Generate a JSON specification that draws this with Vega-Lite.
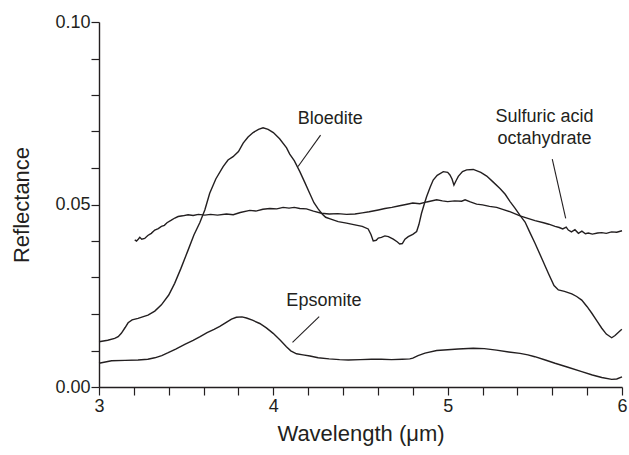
{
  "$schema": "https://vega.github.io/schema/vega-lite/v6.json",
  "autosize": "none",
  "width": 523,
  "height": 365,
  "padding": {"left": 99, "top": 22, "right": 7, "bottom": 68},
  "background": "white",
  "config": {
    "font": "Liberation Sans",
    "view": {"stroke": null},
    "axis": {
      "grid": false,
      "domainColor": "#231f20",
      "domainWidth": 1.4,
      "tickColor": "#231f20",
      "tickWidth": 1.2,
      "labelColor": "#231f20",
      "labelFontSize": 18,
      "labelFont": "Liberation Sans",
      "labelFlush": false,
      "labelOverlap": false,
      "titleColor": "#231f20",
      "titleFont": "Liberation Sans",
      "titleFontSize": 22,
      "titleFontWeight": "normal"
    }
  },
  "resolve": {"axis": {"x": "independent", "y": "independent"}},
  "layer": [
    {
      "data": {"values": [
        {"s":"Epsomite","x":3.0,"y":0.0065},{"s":"Epsomite","x":3.072,"y":0.0072},{"s":"Epsomite","x":3.15,"y":0.0073},{"s":"Epsomite","x":3.224,"y":0.0074},{"s":"Epsomite","x":3.28,"y":0.0076},{"s":"Epsomite","x":3.32,"y":0.008},{"s":"Epsomite","x":3.36,"y":0.0086},{"s":"Epsomite","x":3.397,"y":0.0094},{"s":"Epsomite","x":3.44,"y":0.0104},{"s":"Epsomite","x":3.492,"y":0.0117},{"s":"Epsomite","x":3.54,"y":0.0128},{"s":"Epsomite","x":3.58,"y":0.0138},{"s":"Epsomite","x":3.62,"y":0.0149},{"s":"Epsomite","x":3.66,"y":0.0158},{"s":"Epsomite","x":3.693,"y":0.0166},{"s":"Epsomite","x":3.73,"y":0.0177},{"s":"Epsomite","x":3.76,"y":0.0186},{"s":"Epsomite","x":3.788,"y":0.0191},{"s":"Epsomite","x":3.82,"y":0.0192},{"s":"Epsomite","x":3.846,"y":0.0189},{"s":"Epsomite","x":3.88,"y":0.0183},{"s":"Epsomite","x":3.922,"y":0.0174},{"s":"Epsomite","x":3.96,"y":0.0162},{"s":"Epsomite","x":3.999,"y":0.0147},{"s":"Epsomite","x":4.04,"y":0.0128},{"s":"Epsomite","x":4.075,"y":0.011},{"s":"Epsomite","x":4.1,"y":0.0099},{"s":"Epsomite","x":4.133,"y":0.0091},{"s":"Epsomite","x":4.17,"y":0.0088},{"s":"Epsomite","x":4.21,"y":0.0085},{"s":"Epsomite","x":4.257,"y":0.008},{"s":"Epsomite","x":4.32,"y":0.0077},{"s":"Epsomite","x":4.38,"y":0.0075},{"s":"Epsomite","x":4.43,"y":0.0074},{"s":"Epsomite","x":4.5,"y":0.0075},{"s":"Epsomite","x":4.563,"y":0.0076},{"s":"Epsomite","x":4.62,"y":0.0076},{"s":"Epsomite","x":4.678,"y":0.0075},{"s":"Epsomite","x":4.74,"y":0.0076},{"s":"Epsomite","x":4.783,"y":0.0077},{"s":"Epsomite","x":4.8,"y":0.0079},{"s":"Epsomite","x":4.83,"y":0.0086},{"s":"Epsomite","x":4.87,"y":0.0093},{"s":"Epsomite","x":4.937,"y":0.01},{"s":"Epsomite","x":5.0,"y":0.0102},{"s":"Epsomite","x":5.06,"y":0.0104},{"s":"Epsomite","x":5.147,"y":0.0106},{"s":"Epsomite","x":5.21,"y":0.0105},{"s":"Epsomite","x":5.28,"y":0.0101},{"s":"Epsomite","x":5.35,"y":0.0096},{"s":"Epsomite","x":5.415,"y":0.0092},{"s":"Epsomite","x":5.46,"y":0.0088},{"s":"Epsomite","x":5.5,"y":0.0083},{"s":"Epsomite","x":5.56,"y":0.0074},{"s":"Epsomite","x":5.616,"y":0.0065},{"s":"Epsomite","x":5.69,"y":0.0054},{"s":"Epsomite","x":5.769,"y":0.0042},{"s":"Epsomite","x":5.83,"y":0.0033},{"s":"Epsomite","x":5.884,"y":0.0026},{"s":"Epsomite","x":5.941,"y":0.0021},{"s":"Epsomite","x":5.97,"y":0.0022},{"s":"Epsomite","x":6.0,"y":0.0028},
        {"s":"Bloedite","x":3.0,"y":0.0124},{"s":"Bloedite","x":3.05,"y":0.0128},{"s":"Bloedite","x":3.09,"y":0.0133},{"s":"Bloedite","x":3.11,"y":0.0138},{"s":"Bloedite","x":3.128,"y":0.0147},{"s":"Bloedite","x":3.15,"y":0.0163},{"s":"Bloedite","x":3.167,"y":0.0176},{"s":"Bloedite","x":3.19,"y":0.0184},{"s":"Bloedite","x":3.224,"y":0.0188},{"s":"Bloedite","x":3.25,"y":0.0192},{"s":"Bloedite","x":3.281,"y":0.0197},{"s":"Bloedite","x":3.32,"y":0.0208},{"s":"Bloedite","x":3.358,"y":0.0225},{"s":"Bloedite","x":3.4,"y":0.0252},{"s":"Bloedite","x":3.434,"y":0.0284},{"s":"Bloedite","x":3.47,"y":0.0325},{"s":"Bloedite","x":3.511,"y":0.0375},{"s":"Bloedite","x":3.545,"y":0.0417},{"s":"Bloedite","x":3.578,"y":0.045},{"s":"Bloedite","x":3.607,"y":0.0485},{"s":"Bloedite","x":3.635,"y":0.0531},{"s":"Bloedite","x":3.67,"y":0.057},{"s":"Bloedite","x":3.712,"y":0.0604},{"s":"Bloedite","x":3.74,"y":0.0622},{"s":"Bloedite","x":3.769,"y":0.0631},{"s":"Bloedite","x":3.8,"y":0.0645},{"s":"Bloedite","x":3.827,"y":0.0668},{"s":"Bloedite","x":3.855,"y":0.0685},{"s":"Bloedite","x":3.884,"y":0.0697},{"s":"Bloedite","x":3.915,"y":0.0706},{"s":"Bloedite","x":3.941,"y":0.071},{"s":"Bloedite","x":3.97,"y":0.0706},{"s":"Bloedite","x":4.0,"y":0.0697},{"s":"Bloedite","x":4.036,"y":0.068},{"s":"Bloedite","x":4.076,"y":0.0655},{"s":"Bloedite","x":4.094,"y":0.0638},{"s":"Bloedite","x":4.12,"y":0.062},{"s":"Bloedite","x":4.152,"y":0.059},{"s":"Bloedite","x":4.181,"y":0.056},{"s":"Bloedite","x":4.209,"y":0.053},{"s":"Bloedite","x":4.233,"y":0.0505},{"s":"Bloedite","x":4.257,"y":0.0488},{"s":"Bloedite","x":4.28,"y":0.0474},{"s":"Bloedite","x":4.3,"y":0.0465},{"s":"Bloedite","x":4.33,"y":0.046},{"s":"Bloedite","x":4.372,"y":0.0453},{"s":"Bloedite","x":4.42,"y":0.0449},{"s":"Bloedite","x":4.468,"y":0.0444},{"s":"Bloedite","x":4.51,"y":0.044},{"s":"Bloedite","x":4.544,"y":0.0433},{"s":"Bloedite","x":4.56,"y":0.0418},{"s":"Bloedite","x":4.573,"y":0.04},{"s":"Bloedite","x":4.59,"y":0.0402},{"s":"Bloedite","x":4.602,"y":0.0408},{"s":"Bloedite","x":4.62,"y":0.041},{"s":"Bloedite","x":4.64,"y":0.0414},{"s":"Bloedite","x":4.66,"y":0.0412},{"s":"Bloedite","x":4.688,"y":0.0405},{"s":"Bloedite","x":4.71,"y":0.0398},{"s":"Bloedite","x":4.725,"y":0.0392},{"s":"Bloedite","x":4.74,"y":0.0393},{"s":"Bloedite","x":4.755,"y":0.0405},{"s":"Bloedite","x":4.774,"y":0.0412},{"s":"Bloedite","x":4.8,"y":0.0418},{"s":"Bloedite","x":4.822,"y":0.0426},{"s":"Bloedite","x":4.835,"y":0.0445},{"s":"Bloedite","x":4.85,"y":0.0476},{"s":"Bloedite","x":4.865,"y":0.05},{"s":"Bloedite","x":4.879,"y":0.0521},{"s":"Bloedite","x":4.9,"y":0.0548},{"s":"Bloedite","x":4.917,"y":0.0567},{"s":"Bloedite","x":4.94,"y":0.058},{"s":"Bloedite","x":4.975,"y":0.059},{"s":"Bloedite","x":5.0,"y":0.0588},{"s":"Bloedite","x":5.013,"y":0.0581},{"s":"Bloedite","x":5.025,"y":0.057},{"s":"Bloedite","x":5.036,"y":0.0553},{"s":"Bloedite","x":5.048,"y":0.0565},{"s":"Bloedite","x":5.061,"y":0.0577},{"s":"Bloedite","x":5.085,"y":0.059},{"s":"Bloedite","x":5.109,"y":0.0595},{"s":"Bloedite","x":5.147,"y":0.0596},{"s":"Bloedite","x":5.19,"y":0.0588},{"s":"Bloedite","x":5.224,"y":0.0578},{"s":"Bloedite","x":5.26,"y":0.0562},{"s":"Bloedite","x":5.3,"y":0.0544},{"s":"Bloedite","x":5.33,"y":0.0528},{"s":"Bloedite","x":5.358,"y":0.0508},{"s":"Bloedite","x":5.386,"y":0.049},{"s":"Bloedite","x":5.415,"y":0.047},{"s":"Bloedite","x":5.444,"y":0.0452},{"s":"Bloedite","x":5.47,"y":0.0425},{"s":"Bloedite","x":5.501,"y":0.0394},{"s":"Bloedite","x":5.54,"y":0.0352},{"s":"Bloedite","x":5.578,"y":0.0311},{"s":"Bloedite","x":5.61,"y":0.0278},{"s":"Bloedite","x":5.635,"y":0.0266},{"s":"Bloedite","x":5.67,"y":0.0262},{"s":"Bloedite","x":5.712,"y":0.0255},{"s":"Bloedite","x":5.74,"y":0.0248},{"s":"Bloedite","x":5.769,"y":0.0238},{"s":"Bloedite","x":5.8,"y":0.022},{"s":"Bloedite","x":5.827,"y":0.0202},{"s":"Bloedite","x":5.855,"y":0.0182},{"s":"Bloedite","x":5.884,"y":0.0161},{"s":"Bloedite","x":5.91,"y":0.0145},{"s":"Bloedite","x":5.941,"y":0.0135},{"s":"Bloedite","x":5.96,"y":0.0141},{"s":"Bloedite","x":5.98,"y":0.015},{"s":"Bloedite","x":5.999,"y":0.0158},
        {"s":"Sulfuric","x":3.205,"y":0.0403},{"s":"Sulfuric","x":3.215,"y":0.04},{"s":"Sulfuric","x":3.225,"y":0.0405},{"s":"Sulfuric","x":3.234,"y":0.041},{"s":"Sulfuric","x":3.245,"y":0.0405},{"s":"Sulfuric","x":3.262,"y":0.0407},{"s":"Sulfuric","x":3.28,"y":0.0415},{"s":"Sulfuric","x":3.3,"y":0.0421},{"s":"Sulfuric","x":3.32,"y":0.043},{"s":"Sulfuric","x":3.34,"y":0.0434},{"s":"Sulfuric","x":3.358,"y":0.044},{"s":"Sulfuric","x":3.375,"y":0.0443},{"s":"Sulfuric","x":3.39,"y":0.045},{"s":"Sulfuric","x":3.415,"y":0.0457},{"s":"Sulfuric","x":3.435,"y":0.0463},{"s":"Sulfuric","x":3.454,"y":0.0467},{"s":"Sulfuric","x":3.48,"y":0.0469},{"s":"Sulfuric","x":3.511,"y":0.0472},{"s":"Sulfuric","x":3.54,"y":0.047},{"s":"Sulfuric","x":3.57,"y":0.0473},{"s":"Sulfuric","x":3.607,"y":0.0471},{"s":"Sulfuric","x":3.64,"y":0.0473},{"s":"Sulfuric","x":3.68,"y":0.0471},{"s":"Sulfuric","x":3.731,"y":0.0474},{"s":"Sulfuric","x":3.77,"y":0.0472},{"s":"Sulfuric","x":3.81,"y":0.0478},{"s":"Sulfuric","x":3.865,"y":0.0484},{"s":"Sulfuric","x":3.9,"y":0.0482},{"s":"Sulfuric","x":3.94,"y":0.0487},{"s":"Sulfuric","x":3.98,"y":0.0489},{"s":"Sulfuric","x":4.02,"y":0.0488},{"s":"Sulfuric","x":4.056,"y":0.0492},{"s":"Sulfuric","x":4.09,"y":0.049},{"s":"Sulfuric","x":4.12,"y":0.0492},{"s":"Sulfuric","x":4.152,"y":0.0489},{"s":"Sulfuric","x":4.19,"y":0.0488},{"s":"Sulfuric","x":4.23,"y":0.0482},{"s":"Sulfuric","x":4.276,"y":0.0476},{"s":"Sulfuric","x":4.32,"y":0.0474},{"s":"Sulfuric","x":4.37,"y":0.0475},{"s":"Sulfuric","x":4.42,"y":0.0473},{"s":"Sulfuric","x":4.468,"y":0.0474},{"s":"Sulfuric","x":4.51,"y":0.0477},{"s":"Sulfuric","x":4.55,"y":0.048},{"s":"Sulfuric","x":4.602,"y":0.0485},{"s":"Sulfuric","x":4.64,"y":0.0489},{"s":"Sulfuric","x":4.68,"y":0.0492},{"s":"Sulfuric","x":4.717,"y":0.0496},{"s":"Sulfuric","x":4.76,"y":0.05},{"s":"Sulfuric","x":4.8,"y":0.0504},{"s":"Sulfuric","x":4.84,"y":0.0502},{"s":"Sulfuric","x":4.88,"y":0.0507},{"s":"Sulfuric","x":4.937,"y":0.0513},{"s":"Sulfuric","x":4.97,"y":0.051},{"s":"Sulfuric","x":5.0,"y":0.0508},{"s":"Sulfuric","x":5.04,"y":0.051},{"s":"Sulfuric","x":5.08,"y":0.0509},{"s":"Sulfuric","x":5.1,"y":0.0513},{"s":"Sulfuric","x":5.13,"y":0.0507},{"s":"Sulfuric","x":5.166,"y":0.0501},{"s":"Sulfuric","x":5.2,"y":0.0499},{"s":"Sulfuric","x":5.24,"y":0.0495},{"s":"Sulfuric","x":5.281,"y":0.0492},{"s":"Sulfuric","x":5.32,"y":0.0486},{"s":"Sulfuric","x":5.36,"y":0.048},{"s":"Sulfuric","x":5.415,"y":0.0469},{"s":"Sulfuric","x":5.46,"y":0.0462},{"s":"Sulfuric","x":5.501,"y":0.0456},{"s":"Sulfuric","x":5.55,"y":0.045},{"s":"Sulfuric","x":5.58,"y":0.0446},{"s":"Sulfuric","x":5.616,"y":0.044},{"s":"Sulfuric","x":5.64,"y":0.0437},{"s":"Sulfuric","x":5.66,"y":0.0433},{"s":"Sulfuric","x":5.68,"y":0.0438},{"s":"Sulfuric","x":5.692,"y":0.043},{"s":"Sulfuric","x":5.71,"y":0.0425},{"s":"Sulfuric","x":5.73,"y":0.0431},{"s":"Sulfuric","x":5.75,"y":0.0421},{"s":"Sulfuric","x":5.77,"y":0.0427},{"s":"Sulfuric","x":5.79,"y":0.042},{"s":"Sulfuric","x":5.807,"y":0.0422},{"s":"Sulfuric","x":5.83,"y":0.0419},{"s":"Sulfuric","x":5.86,"y":0.0422},{"s":"Sulfuric","x":5.884,"y":0.0423},{"s":"Sulfuric","x":5.91,"y":0.0421},{"s":"Sulfuric","x":5.94,"y":0.0425},{"s":"Sulfuric","x":5.97,"y":0.0424},{"s":"Sulfuric","x":6.0,"y":0.0428}
      ]},
      "mark": {"type": "line", "color": "#231f20", "strokeWidth": 1.4},
      "encoding": {
        "x": {
          "field": "x", "type": "quantitative",
          "scale": {"domain": [3, 6], "nice": false, "zero": false},
          "axis": {
            "orient": "bottom",
            "values": [3, 3.2, 3.4, 3.6, 3.8, 4, 4.2, 4.4, 4.6, 4.8, 5, 5.2, 5.4, 5.6, 5.8, 6],
            "format": ".0f",
            "labelExpr": "abs(datum.value - round(datum.value)) < 0.001 ? datum.label : ''",
            "tickSize": 8,
            "labelPadding": 2,
            "title": "Wavelength (μm)",
            "titlePadding": 8
          }
        },
        "y": {
          "field": "y", "type": "quantitative",
          "scale": {"domain": [0, 0.1], "nice": false, "zero": false},
          "axis": {
            "orient": "left",
            "values": [0, 0.01, 0.02, 0.03, 0.04, 0.05, 0.06, 0.07, 0.08, 0.09, 0.1],
            "format": ".2f",
            "labelExpr": "abs(datum.value * 20 - round(datum.value * 20)) < 0.001 ? datum.label : ''",
            "tickSize": 8,
            "labelPadding": 1,
            "title": "Reflectance",
            "titlePadding": 21
          }
        },
        "detail": {"field": "s"}
      }
    },
    {
      "data": {"values": [
        {"x": 4.142, "y": 0.0604, "x2": 4.271, "y2": 0.069},
        {"x": 4.11, "y": 0.01225, "x2": 4.263, "y2": 0.01926},
        {"x": 5.6, "y": 0.0624, "x2": 5.677, "y2": 0.0462}
      ]},
      "mark": {"type": "rule", "color": "#231f20", "strokeWidth": 1.1},
      "encoding": {
        "x": {"field": "x", "type": "quantitative", "axis": null},
        "y": {"field": "y", "type": "quantitative", "axis": null},
        "x2": {"field": "x2"},
        "y2": {"field": "y2"}
      }
    },
    {
      "data": {"values": [
        {"t": "Bloedite", "x": 4.327, "y": 0.0734},
        {"t": "Epsomite", "x": 4.29, "y": 0.0236},
        {"t": "Sulfuric acid", "x": 5.556, "y": 0.0741},
        {"t": "octahydrate", "x": 5.556, "y": 0.0679}
      ]},
      "mark": {"type": "text", "color": "#231f20", "fontSize": 18, "font": "Liberation Sans", "align": "center", "baseline": "middle"},
      "encoding": {
        "x": {"field": "x", "type": "quantitative", "axis": null},
        "y": {"field": "y", "type": "quantitative", "axis": null},
        "text": {"field": "t"}
      }
    }
  ]
}
